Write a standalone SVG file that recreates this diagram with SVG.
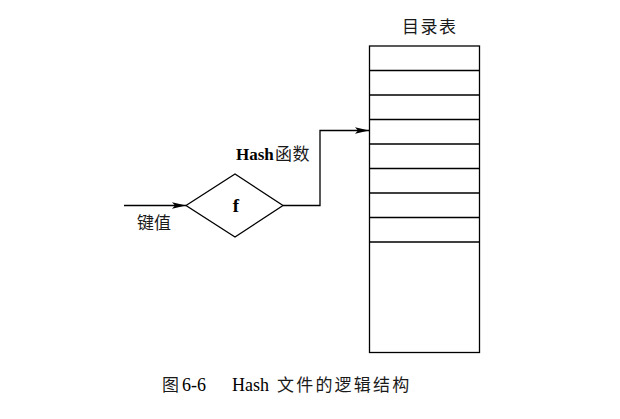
<svg xmlns="http://www.w3.org/2000/svg" width="620" height="419" viewBox="0 0 620 419">
<style>
.ln{fill:none;stroke:#000;stroke-width:1.3}
.t{font-family:"Liberation Serif","Noto Sans CJK SC",serif;fill:#000}
.c{font-family:"Noto Sans CJK SC","Liberation Serif",serif;fill:#1a1a1a;font-size:17px}
</style>
<defs>
<marker id="ah" markerWidth="14" markerHeight="8" refX="14" refY="4" orient="auto" markerUnits="userSpaceOnUse">
<path d="M0,0.8 L14,4 L0,7.2 L3,4 Z" fill="#000"/>
</marker>
</defs>
<rect width="620" height="419" fill="#fff"/>
<g id="connectors">
<path class="ln" d="M124,205.5 L186,205.5" marker-end="url(#ah)"/>
<path class="ln" d="M283,205.5 L320,205.5 L320,130.5 L369,130.5" marker-end="url(#ah)"/>
</g>
<g id="hash">
<polygon class="ln" points="186,205.5 235,174 283,205.5 235,237"/>
<text class="t" x="236" y="212" font-size="19" font-weight="bold" text-anchor="middle">f</text>
<text class="t" x="236" y="160" font-size="17" font-weight="bold">Hash<tspan class="c" font-weight="normal" x="275" font-size="16" letter-spacing="0.5">函数</tspan></text>
</g>
<g id="key">
<text class="c" x="137" y="229">键值</text>
</g>
<g id="table">
<text class="c" x="402" y="33" letter-spacing="1.5">目录表</text>
<rect class="ln" x="369.5" y="46" width="110" height="306.5"/>
<path class="ln" d="M369.5,70.5H479.5M369.5,95H479.5M369.5,119.5H479.5M369.5,144H479.5M369.5,168.5H479.5M369.5,193H479.5M369.5,217.5H479.5M369.5,242H479.5"/>
</g>
<g id="caption">
<text class="c" x="162" y="391">图</text>
<text class="t" x="182" y="391" font-size="18">6-6</text>
<text class="t" x="232" y="391" font-size="18">Hash</text>
<text class="c" x="277" y="391" letter-spacing="2.2">文件的逻辑结构</text>
</g>
</svg>
